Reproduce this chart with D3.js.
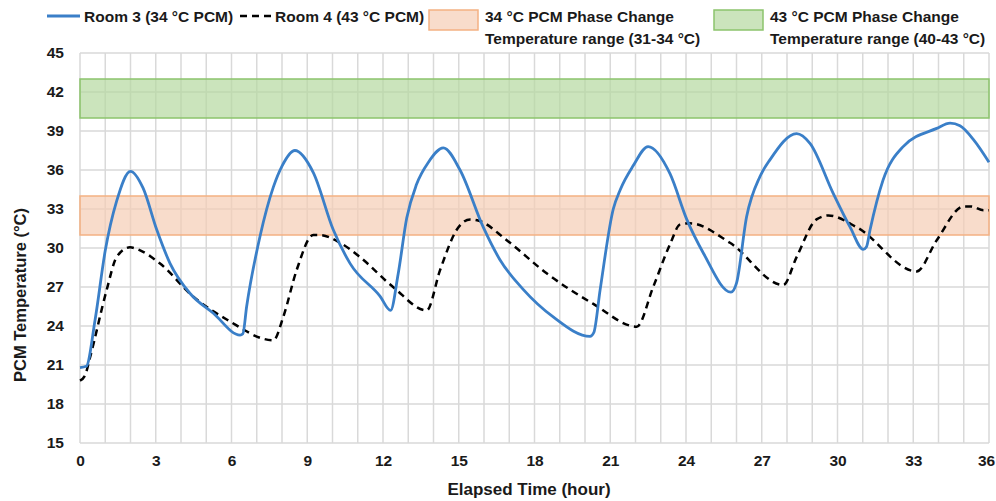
<!DOCTYPE html>
<html><head><meta charset="utf-8">
<script src="https://cdn.jsdelivr.net/npm/d3@7"></script>
<style>body{margin:0;background:#fff}text{font-family:"Liberation Sans",Arial,sans-serif;font-weight:bold;fill:#1a1a1a}</style>
</head><body><svg id="c" width="996" height="501"></svg>
<script>
const room3Hours = [0,0.25,0.6,1.0,1.45,2.0,2.5,3.04,3.57,4.36,5.27,6.34,6.45,6.6,7.13,7.66,8.0,8.51,9.24,10.03,10.7,11.88,12.3,12.6,12.94,13.33,13.8,14.39,15.05,15.97,16.63,17.56,18.74,20.2,20.35,20.6,21.12,21.4,21.9,22.5,23.37,24.03,24.69,25.78,26.0,26.4,26.93,27.33,28.38,28.91,29.83,30.5,31.02,31.15,31.29,31.8,32.6,33.93,34.46,34.85,35.4,36];
const room3Temps = [20.8,20.9,24.5,29.8,33.6,35.9,34.6,31.4,28.8,26.5,25.0,23.3,23.4,25.5,30.9,34.7,36.3,37.5,35.8,31.4,28.8,26.3,25.2,28.0,32.3,34.9,36.6,37.7,36.0,31.6,29.1,26.8,24.7,23.2,23.5,26.8,33.0,34.5,36.3,37.8,35.7,32.2,29.6,26.6,27.3,32.4,35.5,36.8,38.8,38.05,34.2,31.6,29.9,30.1,31.4,35.2,37.8,39.2,39.6,39.4,38.3,36.6];
const room4Hours = [0,0.2,0.4,1.06,1.45,1.98,2.4,3.17,4.49,5.81,7.66,8.05,8.58,9.24,9.5,10.3,11.09,12.4,13.73,14.26,14.92,15.45,15.8,16.9,18.48,20.33,22.05,22.7,23.37,23.76,24.16,25.74,27.85,28.38,29.17,29.64,30.76,33.13,33.93,35.0,35.3,35.78,36];
const room4Temps = [19.8,20.2,21.6,26.8,29.3,30.05,29.8,28.8,26.25,24.5,22.9,24.7,28.3,31.0,31.0,30.4,29.3,27.0,25.2,28.3,31.4,32.2,32.1,30.6,28.05,25.7,23.95,27.0,30.3,31.8,31.9,30.4,27.15,29.3,32.2,32.5,31.6,28.2,30.6,33.2,33.2,32.9,32.9];
const xTicks = [0,3,6,9,12,15,18,21,24,27,30,33,36];
const yTicks = [15,18,21,24,27,30,33,36,39,42,45];
const bands = [{lo:31,hi:34,fill:"#f5cdb5",stroke:"#f4b183"},{lo:40,hi:43,fill:"#b5d9a0",stroke:"#8cc46c"}];
const legendLabels = ["Room 3 (34 °C PCM)","Room 4 (43 °C PCM)",["34 °C PCM Phase Change","Temperature range (31-34 °C)"],["43 °C PCM Phase Change","Temperature range (40-43 °C)"]];

const svg = d3.select("#c");
const L=80,R=989,T=53,B=443;
const x = d3.scaleLinear().domain([0,36]).range([L,R]);
const y = d3.scaleLinear().domain([15,45]).range([B,T]);

// grid
const g = svg.append("g");
g.selectAll(".v").data(d3.range(0,37)).enter().append("line")
 .attr("x1",d=>x(d)).attr("x2",d=>x(d)).attr("y1",T).attr("y2",B)
 .attr("stroke","#d9d9d9").attr("stroke-width",1.5);
g.selectAll(".h").data(yTicks).enter().append("line")
 .attr("x1",L).attr("x2",R).attr("y1",d=>y(d)).attr("y2",d=>y(d))
 .attr("stroke","#d9d9d9").attr("stroke-width",1.5);

// bands
svg.selectAll(".band").data(bands).enter().append("rect")
 .attr("x",L).attr("width",R-L).attr("y",d=>y(d.hi)).attr("height",d=>y(d.lo)-y(d.hi))
 .attr("fill",d=>d.fill).attr("fill-opacity",0.7).attr("stroke",d=>d.stroke).attr("stroke-width",1.5);

// axes labels
const xa = svg.append("g").attr("transform",`translate(0,${B})`).call(d3.axisBottom(x).tickValues(xTicks).tickSize(0).tickPadding(12));
xa.select(".domain").remove();
xa.selectAll("text").attr("font-size",15.5).attr("font-family","Liberation Sans, Arial").attr("font-weight","bold").attr("fill","#1a1a1a")
  .attr("dx",d=>d===36?-3:0);
const ya = svg.append("g").attr("transform",`translate(${L},0)`).call(d3.axisLeft(y).tickValues(yTicks).tickSize(0).tickPadding(16));
ya.select(".domain").remove();
ya.selectAll("text").attr("font-size",15.5).attr("font-family","Liberation Sans, Arial").attr("font-weight","bold").attr("fill","#1a1a1a");

svg.append("text").attr("x",529).attr("y",495).attr("text-anchor","middle").attr("font-size",17).text("Elapsed Time (hour)");
svg.append("text").attr("transform",`translate(26,295) rotate(-90)`).attr("text-anchor","middle").attr("font-size",16.5).text("PCM Temperature (°C)");

// lines
const line = d3.line().x(d=>x(d[0])).y(d=>y(d[1])).curve(d3.curveMonotoneX);
svg.append("path").datum(room4Hours.map((h,i)=>[h,room4Temps[i]])).attr("d",line)
 .attr("fill","none").attr("stroke","#000").attr("stroke-width",2.5).attr("stroke-dasharray","7,5");
svg.append("path").datum(room3Hours.map((h,i)=>[h,room3Temps[i]])).attr("d",line)
 .attr("fill","none").attr("stroke","#3a7fc8").attr("stroke-width",2.8);

// legend
const lg = svg.append("g");
lg.append("line").attr("x1",47).attr("x2",80).attr("y1",16).attr("y2",16).attr("stroke","#3a7fc8").attr("stroke-width",2.8);
lg.append("text").attr("x",84).attr("y",22).attr("font-size",15.5).text(legendLabels[0]);
lg.append("line").attr("x1",240).attr("x2",273).attr("y1",16).attr("y2",16).attr("stroke","#000").attr("stroke-width",2.5).attr("stroke-dasharray","7,5");
lg.append("text").attr("x",275).attr("y",22).attr("font-size",15.5).text(legendLabels[1]);
[[429,bands[0],legendLabels[2]],[714,bands[1],legendLabels[3]]].forEach(([bx,b,lab])=>{
  lg.append("rect").attr("x",bx).attr("y",10).attr("width",49).attr("height",20).attr("fill",b.fill).attr("fill-opacity",0.7).attr("stroke",b.stroke).attr("stroke-width",1.5);
  const t = lg.append("text").attr("font-size",15.5);
  t.append("tspan").attr("x",bx+56).attr("y",22).text(lab[0]);
  t.append("tspan").attr("x",bx+56).attr("y",44).text(lab[1]);
});
</script></body></html>
